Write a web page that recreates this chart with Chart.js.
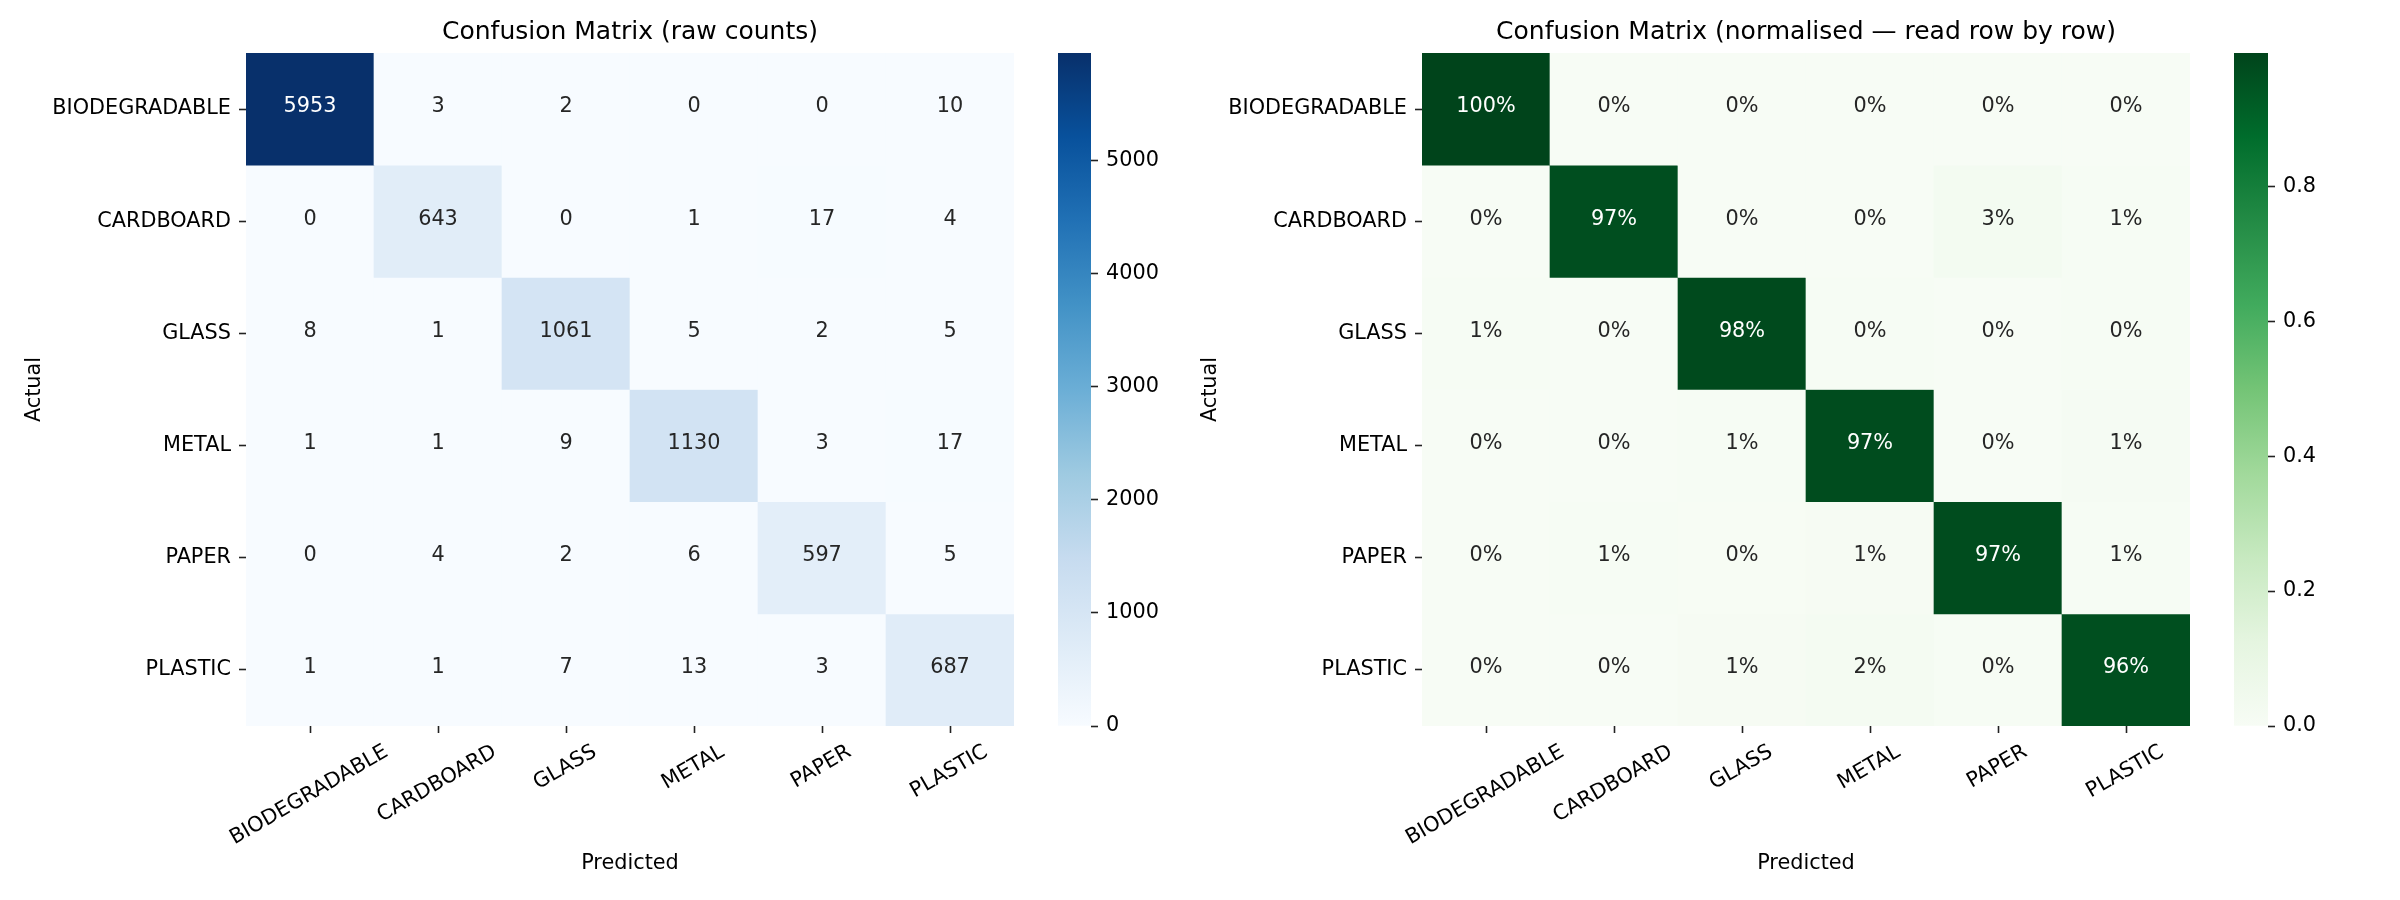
<!DOCTYPE html>
<html>
<head>
<meta charset="utf-8">
<title>Confusion Matrix</title>
<script src="https://cdn.jsdelivr.net/npm/chart.js@4.4.1/dist/chart.umd.min.js"></script>
<style>
  html, body { margin: 0; padding: 0; background: #fff; overflow: hidden; }
  #wrap { position: relative; width: 2400px; height: 900px; }
  canvas { position: absolute; top: 0; }
</style>
</head>
<body>
<div id="wrap">
  <canvas id="rawMatrix" width="1040" height="900" style="left:0px"></canvas>
  <canvas id="rawColorbar" width="160" height="900" style="left:1040px"></canvas>
  <canvas id="normMatrix" width="1030" height="900" style="left:1190px"></canvas>
  <canvas id="normColorbar" width="180" height="900" style="left:2220px"></canvas>
</div>
<script>
// Class names (rows = actual, columns = predicted)
const classes = ["BIODEGRADABLE", "CARDBOARD", "GLASS", "METAL", "PAPER", "PLASTIC"];

// Raw counts, one array per actual class
const rawBiodegradable = [5953, 3, 2, 0, 0, 10];
const rawCardboard = [0, 643, 0, 1, 17, 4];
const rawGlass = [8, 1, 1061, 5, 2, 5];
const rawMetal = [1, 1, 9, 1130, 3, 17];
const rawPaper = [0, 4, 2, 6, 597, 5];
const rawPlastic = [1, 1, 7, 13, 3, 687];

// Row-normalised values, one array per actual class
const normBiodegradable = [0.9975, 0.0005, 0.0003, 0.0, 0.0, 0.0017];
const normCardboard = [0.0, 0.9669, 0.0, 0.0015, 0.0256, 0.006];
const normGlass = [0.0074, 0.0009, 0.9806, 0.0046, 0.0018, 0.0046];
const normMetal = [0.0009, 0.0009, 0.0078, 0.9733, 0.0026, 0.0146];
const normPaper = [0.0, 0.0065, 0.0033, 0.0098, 0.9723, 0.0081];
const normPlastic = [0.0014, 0.0014, 0.0098, 0.0183, 0.0042, 0.9649];

// Colorbar tick labels
const rawColorbarTicks = [0, 1000, 2000, 3000, 4000, 5000];
const normColorbarTicks = [0.0, 0.2, 0.4, 0.6, 0.8];

// Colormaps (same stops as matplotlib Blues / Greens)
const blues = ["#f7fbff", "#deebf7", "#c6dbef", "#9ecae1", "#6baed6", "#4292c6", "#2171b5", "#08519c", "#08306b"];
const greens = ["#f7fcf5", "#e5f5e0", "#c7e9c0", "#a1d99b", "#74c476", "#41ab5d", "#238b45", "#006d2c", "#00441b"];

const rawCounts = [rawBiodegradable, rawCardboard, rawGlass, rawMetal, rawPaper, rawPlastic];
const normValues = [normBiodegradable, normCardboard, normGlass, normMetal, normPaper, normPlastic];

Chart.defaults.font.family = "'DejaVu Sans', sans-serif";
Chart.defaults.color = "#000";

const FONT = 20.8;

function hexToRgb(hex) {
  return [1, 3, 5].map((i) => parseInt(hex.substr(i, 2), 16));
}

// Linear interpolation through the colormap stops, t in [0, 1]
function colormapRgb(stops, t) {
  t = Math.min(1, Math.max(0, t));
  const pos = t * (stops.length - 1);
  const i = Math.min(stops.length - 2, Math.floor(pos));
  const f = pos - i;
  const a = hexToRgb(stops[i]);
  const b = hexToRgb(stops[i + 1]);
  return a.map((v, k) => Math.round(v + (b[k] - v) * f));
}

// Same rule seaborn uses to pick dark or white annotation text
function luminance(rgb) {
  const lin = rgb.map((c) => {
    c = c / 255;
    return c <= 0.03928 ? c / 12.92 : Math.pow((c + 0.055) / 1.055, 2.4);
  });
  return 0.2126 * lin[0] + 0.7152 * lin[1] + 0.0722 * lin[2];
}

const tickGrid = {
  offset: false,
  drawOnChartArea: false,
  drawTicks: true,
  tickLength: 7,
  tickColor: "#222",
  tickWidth: 1.6,
};

// Heatmap built from floating bars, one dataset per actual class
function makeHeatmap(canvasId, matrix, stops, formatValue, titleText, box) {
  const flat = matrix.flat();
  const vmin = Math.min(...flat);
  const vmax = Math.max(...flat);
  const rgbFor = (v) => colormapRgb(stops, (v - vmin) / (vmax - vmin));
  const cssFor = (v) => "rgb(" + rgbFor(v).join(",") + ")";

  const datasets = matrix.map((row, r) => ({
    label: classes[r],
    data: row.map(() => [r, r + 1]),
    backgroundColor: row.map(cssFor),
    borderWidth: 0,
    grouped: false,
    barPercentage: 1,
    categoryPercentage: 1,
  }));

  const cellLabels = {
    id: "cellLabels",
    afterDatasetsDraw(chart) {
      const ctx = chart.ctx;
      const xs = chart.scales.x;
      const ys = chart.scales.y;
      ctx.save();
      ctx.font = FONT + "px 'DejaVu Sans'";
      ctx.textAlign = "center";
      ctx.textBaseline = "middle";
      matrix.forEach((row, r) => {
        row.forEach((v, c) => {
          ctx.fillStyle = luminance(rgbFor(v)) > 0.408 ? "#262626" : "#ffffff";
          ctx.fillText(formatValue(v), xs.getPixelForValue(c), ys.getPixelForValue(r + 0.5) - 2);
        });
      });
      // rotated x tick labels, centred under each tick
      ctx.fillStyle = "#000";
      ctx.textBaseline = "alphabetic";
      const capH = 0.73 * FONT;
      classes.forEach((name, c) => {
        const w = ctx.measureText(name).width;
        const cx = xs.getPixelForValue(c) - 2;
        const cy = xs.top + 16 + (w * 0.5 + capH * 0.866) / 2;
        ctx.save();
        ctx.translate(cx, cy);
        ctx.rotate(-Math.PI / 6);
        ctx.fillText(name, 0, capH / 2);
        ctx.restore();
      });
      ctx.restore();
    },
  };

  const ctx = document.getElementById(canvasId).getContext("2d");
  return new Chart(ctx, {
    type: "bar",
    data: { labels: classes, datasets: datasets },
    options: {
      responsive: false,
      animation: false,
      layout: { padding: { left: 0, right: box.right, top: 0, bottom: 0 } },
      plugins: {
        legend: { display: false },
        tooltip: { enabled: false },
        title: {
          display: true,
          text: titleText,
          fullSize: false,
          color: "#000",
          font: { size: 25, weight: "normal", lineHeight: 1.2 },
          padding: { top: 17, bottom: 6 },
        },
      },
      scales: {
        x: {
          type: "category",
          ticks: { display: false },
          grid: tickGrid,
          border: { display: false },
          title: {
            display: true,
            text: "Predicted",
            color: "#000",
            font: { size: FONT, lineHeight: 1.2 },
            padding: { top: 0, bottom: 23.5 },
          },
          afterFit: (scale) => { scale.height = 174; },
        },
        y: {
          type: "linear",
          min: 0,
          max: 6,
          reverse: true,
          afterBuildTicks: (scale) => {
            scale.ticks = classes.map((_, i) => ({ value: i + 0.5 }));
          },
          ticks: {
            callback: (v, i) => classes[i],
            color: "#000",
            font: { size: FONT },
            padding: 8,
            autoSkip: false,
          },
          grid: tickGrid,
          border: { display: false },
          title: {
            display: true,
            text: "Actual",
            color: "#000",
            font: { size: FONT, lineHeight: 1.2 },
            padding: { top: box.titlePad, bottom: 0 },
          },
          afterFit: (scale) => { scale.width = box.left; },
        },
      },
    },
    plugins: [cellLabels],
  });
}

// Colorbar: a single bar filled with the colormap gradient
function makeColorbar(canvasId, vmax, stops, tickValues, formatTick, box) {
  const ctx = document.getElementById(canvasId).getContext("2d");
  return new Chart(ctx, {
    type: "bar",
    data: {
      labels: [""],
      datasets: [
        {
          data: [[0, vmax]],
          backgroundColor: (context) => {
            const ca = context.chart.chartArea;
            if (!ca) return stops[0];
            const g = context.chart.ctx.createLinearGradient(0, ca.bottom, 0, ca.top);
            stops.forEach((s, k) => g.addColorStop(k / (stops.length - 1), s));
            return g;
          },
          borderWidth: 0,
          barPercentage: 1,
          categoryPercentage: 1,
        },
      ],
    },
    options: {
      responsive: false,
      animation: false,
      layout: { padding: { left: box.left, right: 0, top: 53, bottom: 174 } },
      plugins: { legend: { display: false }, tooltip: { enabled: false } },
      scales: {
        x: { display: false },
        y: {
          position: "right",
          min: 0,
          max: vmax,
          afterBuildTicks: (scale) => {
            scale.ticks = tickValues.map((v) => ({ value: v }));
          },
          ticks: { callback: (v) => formatTick(v), color: "#000", font: { size: FONT }, padding: 8 },
          grid: tickGrid,
          border: { display: false },
          afterFit: (scale) => { scale.width = box.axis; },
        },
      },
    },
  });
}

// Create the raw counts heatmap and its colorbar
var rawChart = makeHeatmap("rawMatrix", rawCounts, blues, (v) => String(v),
  "Confusion Matrix (raw counts)", { left: 246, right: 26, titlePad: 22.3 });
var rawBar = makeColorbar("rawColorbar", Math.max(...rawCounts.flat()), blues,
  rawColorbarTicks, (v) => String(v), { left: 18, axis: 109 });

// Create the normalised heatmap and its colorbar
var normChart = makeHeatmap("normMatrix", normValues, greens, (v) => Math.round(v * 100) + "%",
  "Confusion Matrix (normalised \u2014 read row by row)", { left: 232, right: 30, titlePad: 8.3 });
var normBar = makeColorbar("normColorbar", Math.max(...normValues.flat()), greens,
  normColorbarTicks, (v) => v.toFixed(1), { left: 14, axis: 132 });
</script>
</body>
</html>
